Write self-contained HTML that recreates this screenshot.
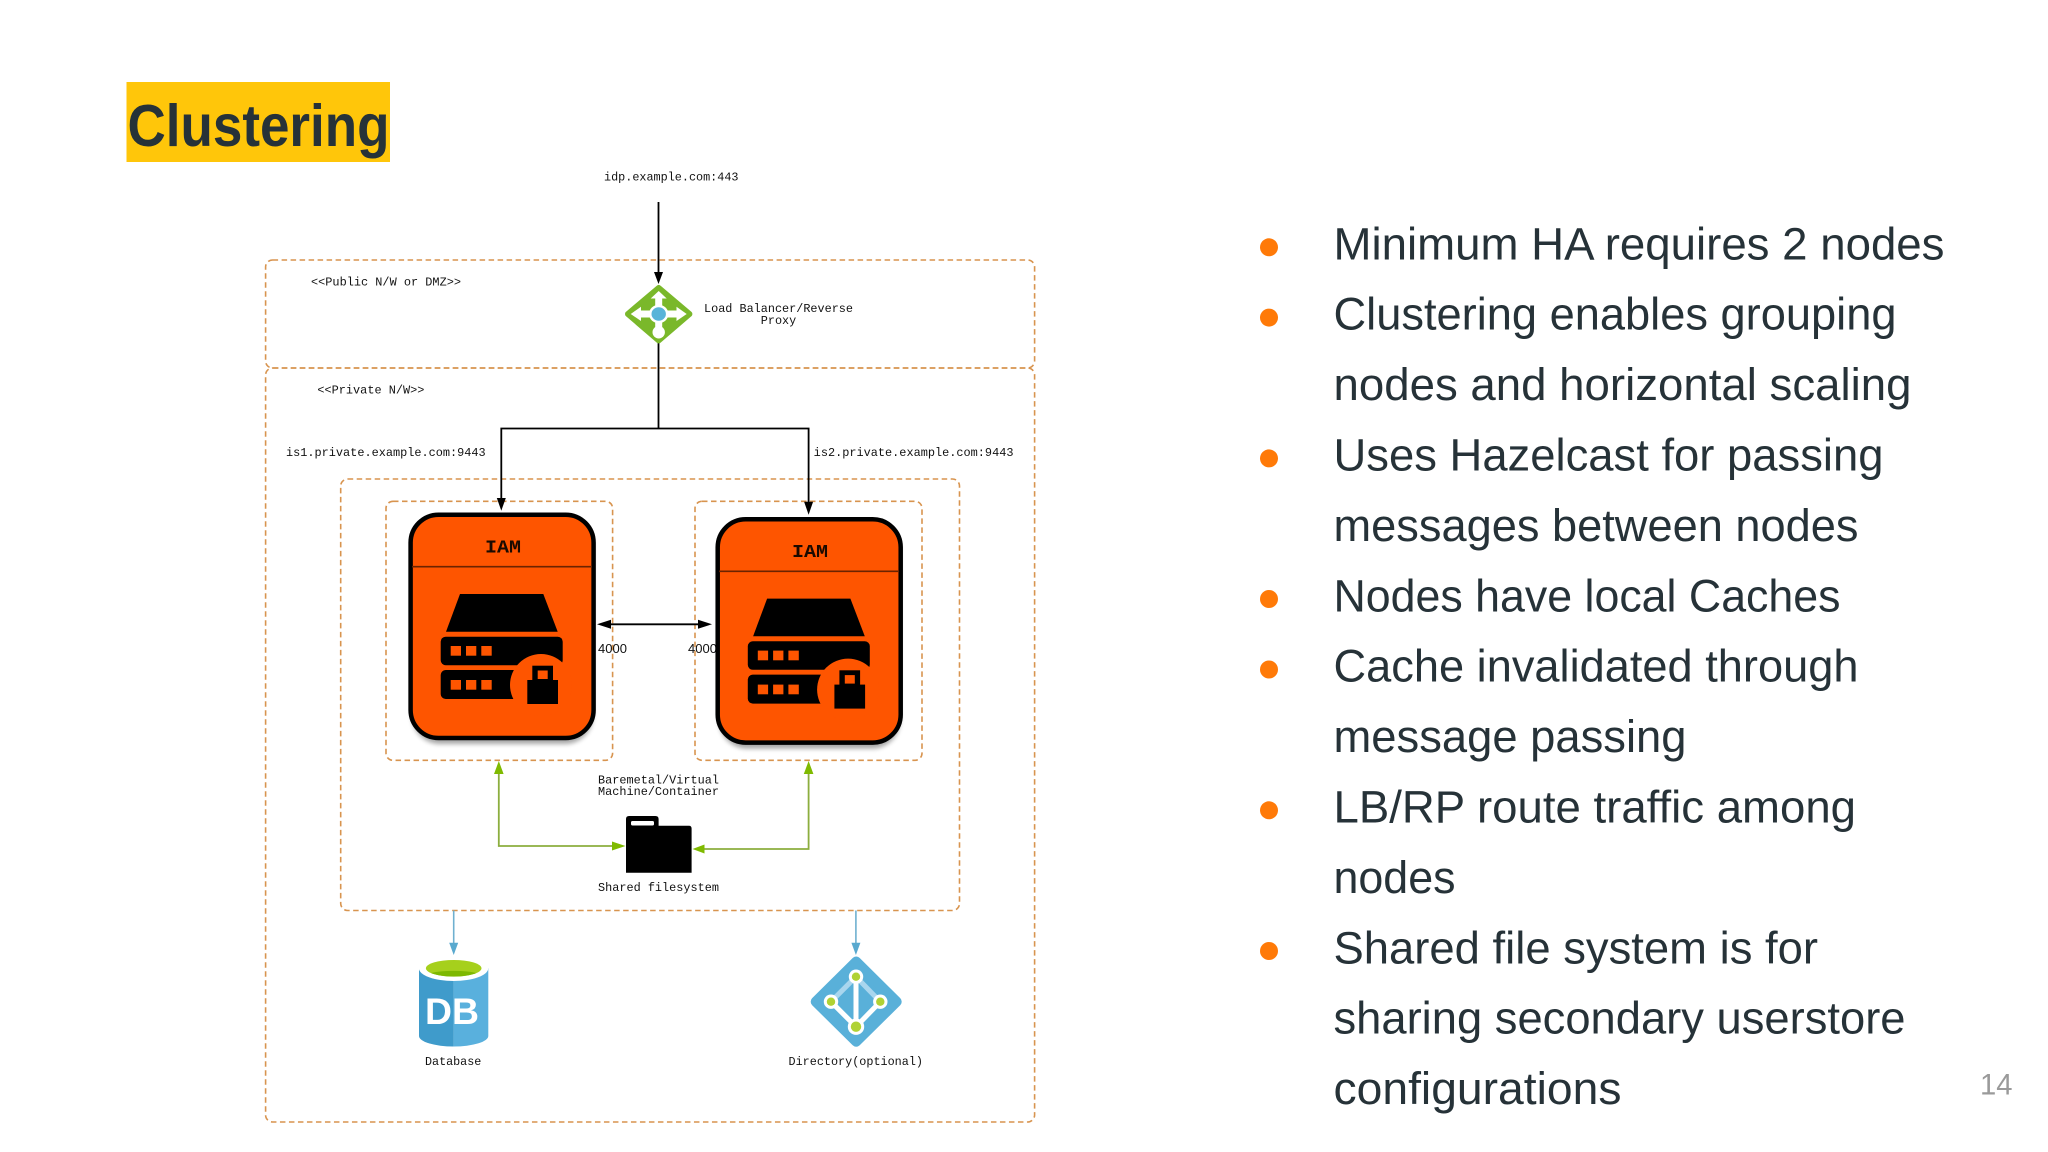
<!DOCTYPE html>
<html>
<head>
<meta charset="utf-8">
<style>
html,body{margin:0;padding:0;background:#fff;width:2048px;height:1152px;overflow:hidden}
svg{display:block}
.m{font-family:"Liberation Mono",monospace;font-size:11.8px;fill:#111}
.b{font-family:"Liberation Sans",sans-serif;font-size:45px;fill:#263238}
.d{fill:none;stroke:#d8944f;stroke-width:1.6;stroke-dasharray:5.5 3.5}
</style>
</head>
<body>
<svg width="2048" height="1152" viewBox="0 0 2048 1152" xmlns="http://www.w3.org/2000/svg">
<defs>
<filter id="sh" x="-10%" y="-10%" width="120%" height="120%"><feGaussianBlur stdDeviation="2.5"/></filter>
<g id="node">
  <rect x="412" y="520" width="181" height="224" rx="28" fill="#000" opacity=".35" filter="url(#sh)"/>
  <rect x="410.6" y="514.7" width="183" height="223.3" rx="28" fill="#fe5500" stroke="#000" stroke-width="4.5"/>
  <line x1="412" y1="566.7" x2="592" y2="566.7" stroke="#6b2300" stroke-width="1.6"/>
  <polygon points="460,594 543.3,594 557.7,631.7 446,631.7" fill="#000"/>
  <rect x="440.7" y="636.7" width="122" height="28.5" rx="5" fill="#000"/>
  <rect x="440.7" y="670" width="85" height="29" rx="5" fill="#000"/>
  <circle cx="541" cy="685" r="31" fill="#fe5500"/>
  <g fill="#fe5500">
    <rect x="450.7" y="646" width="10.3" height="9.7"/><rect x="466" y="646" width="10.3" height="9.7"/><rect x="481.3" y="646" width="10.4" height="9.7"/>
    <rect x="450.7" y="680" width="10.3" height="9.7"/><rect x="466" y="680" width="10.3" height="9.7"/><rect x="481.3" y="680" width="10.4" height="9.7"/>
  </g>
  <rect x="527.3" y="680" width="30.7" height="24" fill="#000"/>
  <rect x="532.3" y="665.7" width="20.7" height="16" fill="#000"/>
  <rect x="537.7" y="670.5" width="10" height="8.5" fill="#fe5500"/>
</g>
</defs>
<rect width="2048" height="1152" fill="#fff"/>

<!-- Title -->
<rect x="126.5" y="82" width="263.5" height="80" fill="#ffc60a"/>
<text x="127.5" y="146" font-family="'Liberation Sans',sans-serif" font-weight="700" font-size="59" fill="#263238" textLength="262" lengthAdjust="spacingAndGlyphs">Clustering</text>

<!-- Containers -->
<rect class="d" x="265.6" y="260" width="769" height="108" rx="7"/>
<rect class="d" x="265.6" y="368" width="769" height="754" rx="7"/>
<rect class="d" x="340.7" y="479" width="618.8" height="431.5" rx="7"/>
<rect class="d" x="386" y="501.3" width="226.6" height="259" rx="7"/>
<rect class="d" x="695" y="501.3" width="227" height="259" rx="7"/>

<!-- Labels -->
<text class="m" x="604" y="180.5" textLength="134.5" lengthAdjust="spacingAndGlyphs">idp.example.com:443</text>
<text class="m" x="311" y="285.5" textLength="150" lengthAdjust="spacingAndGlyphs">&lt;&lt;Public N/W or DMZ&gt;&gt;</text>
<text class="m" x="317.4" y="393.5" textLength="107" lengthAdjust="spacingAndGlyphs">&lt;&lt;Private N/W&gt;&gt;</text>
<text class="m" x="286" y="456" textLength="199.7" lengthAdjust="spacingAndGlyphs">is1.private.example.com:9443</text>
<text class="m" x="813.7" y="456" textLength="199.8" lengthAdjust="spacingAndGlyphs">is2.private.example.com:9443</text>
<text class="m" x="704" y="312" textLength="149" lengthAdjust="spacingAndGlyphs">Load Balancer/Reverse</text>
<text class="m" x="778.5" y="324" text-anchor="middle">Proxy</text>
<text class="m" x="598" y="783.5" textLength="121" lengthAdjust="spacingAndGlyphs">Baremetal/Virtual</text>
<text class="m" x="598" y="795" textLength="121" lengthAdjust="spacingAndGlyphs">Machine/Container</text>
<text class="m" x="598" y="891" textLength="121" lengthAdjust="spacingAndGlyphs">Shared filesystem</text>
<text class="m" x="425" y="1065" textLength="56.3" lengthAdjust="spacingAndGlyphs">Database</text>
<text class="m" x="788.5" y="1065" textLength="134.5" lengthAdjust="spacingAndGlyphs">Directory(optional)</text>

<!-- Black connectors -->
<g stroke="#000" stroke-width="1.8" fill="none">
  <line x1="658.5" y1="202" x2="658.5" y2="274"/>
  <polyline points="658.5,343 658.5,428.5"/>
  <polyline points="501.3,500 501.3,428.5 808.6,428.5 808.6,503"/>
  <line x1="608" y1="624.3" x2="702" y2="624.3"/>
</g>
<polygon points="658.5,284 654,272 663,272" fill="#000"/>
<polygon points="501.3,510.7 496.8,498 505.8,498" fill="#000"/>
<polygon points="808.6,514.7 804.1,501.7 813.1,501.7" fill="#000"/>
<polygon points="597,624.3 611,619.8 611,628.8" fill="#000"/>
<polygon points="712,624.3 698,619.8 698,628.8" fill="#000"/>

<!-- 4000 labels -->
<text x="598" y="653" font-family="'Liberation Sans',sans-serif" font-size="13" fill="#111">4000</text>
<text x="688" y="653" font-family="'Liberation Sans',sans-serif" font-size="13" fill="#111">4000</text>

<!-- Load balancer icon -->
<polygon points="658.7,288 689.4,314 658.7,340.3 628,314" fill="#7ab82a" stroke="#7ab82a" stroke-width="6" stroke-linejoin="round"/>
<g stroke="#fff" stroke-width="7" fill="none">
  <line x1="658.7" y1="297" x2="658.7" y2="332"/>
  <line x1="640" y1="314" x2="678" y2="314"/>
</g>
<g fill="#fff">
  <polygon points="658.7,291 650.7,298.5 666.7,298.5"/>
  <polygon points="630.7,314 641,306.7 641,321"/>
  <polygon points="686.7,314 676.5,306.7 676.5,321"/>
  <circle cx="658.7" cy="332.3" r="6.2"/>
  <ellipse cx="658.7" cy="314" rx="9.7" ry="9.2"/>
</g>
<ellipse cx="658.7" cy="314" rx="7.2" ry="6.7" fill="#59b4d9"/>

<!-- IAM nodes -->
<use href="#node"/>
<text x="503" y="552.5" text-anchor="middle" font-family="'Liberation Mono',monospace" font-weight="700" font-size="18" fill="#1a0a00" textLength="36" lengthAdjust="spacingAndGlyphs">IAM</text>
<use href="#node" transform="translate(307.1,4.6)"/>
<text x="810" y="557" text-anchor="middle" font-family="'Liberation Mono',monospace" font-weight="700" font-size="18" fill="#1a0a00" textLength="36" lengthAdjust="spacingAndGlyphs">IAM</text>

<!-- Green connectors -->
<g stroke="#8cae3e" stroke-width="1.8" fill="none">
  <polyline points="498.8,772 498.8,846 614,846"/>
  <polyline points="808.6,772 808.6,849 703,849"/>
</g>
<g fill="#7fba00">
  <polygon points="498.8,761 494,774 503.6,774"/>
  <polygon points="808.6,761 803.8,774 813.4,774"/>
  <polygon points="625.5,846 612,841.5 612,850.5"/>
  <polygon points="692.5,849 704.5,844.5 704.5,853.5"/>
</g>

<!-- Folder -->
<path d="M626 819 Q626 816 629 816 L655.5 816 Q658.6 816 658.6 819 L658.6 825.7 L689 825.7 Q691.6 825.7 691.6 828.5 L691.6 872.7 L626 872.7 Z" fill="#000"/>
<rect x="631" y="821" width="23" height="4.5" rx="1.5" fill="#fff"/>

<!-- Blue connectors -->
<g stroke="#6fb0d0" stroke-width="1.6" fill="none">
  <line x1="453.7" y1="910.5" x2="453.7" y2="944"/>
  <line x1="855.9" y1="910.5" x2="855.9" y2="944"/>
</g>
<g fill="#59a9cf">
  <polygon points="453.7,955 449.2,942.7 458.2,942.7"/>
  <polygon points="855.9,955 851.4,942.7 860.4,942.7"/>
</g>

<!-- Database -->
<path d="M419 968 L419 1036 A34.6 10.5 0 0 0 453.6 1046.5 L453.6 968 Z" fill="#3f9bcb"/>
<path d="M488.3 968 L488.3 1036 A34.7 10.5 0 0 1 453.6 1046.5 L453.6 968 Z" fill="#59b0dd"/>
<ellipse cx="453.6" cy="968.3" rx="34.7" ry="12.7" fill="#fff"/>
<ellipse cx="453.7" cy="968.3" rx="27.8" ry="8.3" fill="#a6d01c"/>
<path d="M431 973 A27.8 8.3 0 0 0 476.4 973 A32 7 0 0 0 431 973 Z" fill="#7db800"/>
<text x="425" y="1024" font-family="'Liberation Sans',sans-serif" font-weight="700" font-size="37.5" fill="#fff" textLength="54" lengthAdjust="spacingAndGlyphs">DB</text>

<!-- Directory -->
<polygon points="856.2,961.5 896.7,1001.7 856.2,1041.7 815.7,1001.7" fill="#59b0d9" stroke="#59b0d9" stroke-width="10" stroke-linejoin="round"/>
<g stroke="#a9d6ee" stroke-width="5" fill="none">
  <line x1="856" y1="976.7" x2="831" y2="1001.7"/>
  <line x1="856" y1="976.7" x2="880.3" y2="1001.7"/>
</g>
<g stroke="#fff" stroke-width="5" fill="none">
  <line x1="856" y1="976.7" x2="856" y2="1026.7"/>
  <line x1="831" y1="1001.7" x2="856" y2="1026.7"/>
  <line x1="880.3" y1="1001.7" x2="856" y2="1026.7"/>
</g>
<g fill="#fff">
  <circle cx="856" cy="976.7" r="7.2"/>
  <circle cx="831" cy="1001.7" r="7.2"/>
  <circle cx="880.3" cy="1001.7" r="7.2"/>
  <circle cx="856" cy="1026.7" r="8.2"/>
</g>
<g fill="#b0d234">
  <circle cx="856" cy="976.7" r="4.2"/>
  <circle cx="831" cy="1001.7" r="4.2"/>
  <circle cx="880.3" cy="1001.7" r="4.2"/>
  <circle cx="856" cy="1026.7" r="5.2"/>
</g>

<!-- Bullets -->
<g fill="#ff7a08">
  <circle cx="1269" cy="247.3" r="9"/>
  <circle cx="1269" cy="317.6" r="9"/>
  <circle cx="1269" cy="458.4" r="9"/>
  <circle cx="1269" cy="599" r="9"/>
  <circle cx="1269" cy="669.5" r="9"/>
  <circle cx="1269" cy="810.3" r="9"/>
  <circle cx="1269" cy="951" r="9"/>
</g>

<!-- Bullet text -->
<text class="b" x="1333.5" y="259.3" textLength="611" lengthAdjust="spacingAndGlyphs">Minimum HA requires 2 nodes</text>
<text class="b" x="1333.5" y="329.7" textLength="563" lengthAdjust="spacingAndGlyphs">Clustering enables grouping</text>
<text class="b" x="1333.5" y="400.1" textLength="578" lengthAdjust="spacingAndGlyphs">nodes and horizontal scaling</text>
<text class="b" x="1333.5" y="470.5" textLength="550" lengthAdjust="spacingAndGlyphs">Uses Hazelcast for passing</text>
<text class="b" x="1333.5" y="540.9" textLength="525" lengthAdjust="spacingAndGlyphs">messages between nodes</text>
<text class="b" x="1333.5" y="611.3" textLength="507" lengthAdjust="spacingAndGlyphs">Nodes have local Caches</text>
<text class="b" x="1333.5" y="681.7" textLength="525" lengthAdjust="spacingAndGlyphs">Cache invalidated through</text>
<text class="b" x="1333.5" y="752.1" textLength="353" lengthAdjust="spacingAndGlyphs">message passing</text>
<text class="b" x="1333.5" y="822.5" textLength="522.5" lengthAdjust="spacingAndGlyphs">LB/RP route traffic among</text>
<text class="b" x="1333.5" y="892.9" textLength="122" lengthAdjust="spacingAndGlyphs">nodes</text>
<text class="b" x="1333.5" y="963.3" textLength="484.5" lengthAdjust="spacingAndGlyphs">Shared file system is for</text>
<text class="b" x="1333.5" y="1033.7" textLength="572" lengthAdjust="spacingAndGlyphs">sharing secondary userstore</text>
<text class="b" x="1333.5" y="1104.1" textLength="288" lengthAdjust="spacingAndGlyphs">configurations</text>

<!-- Page number -->
<text x="1980" y="1094.3" font-family="'Liberation Sans',sans-serif" font-size="30" fill="#9a9a9a" textLength="32.5" lengthAdjust="spacingAndGlyphs">14</text>
</svg>
</body>
</html>
